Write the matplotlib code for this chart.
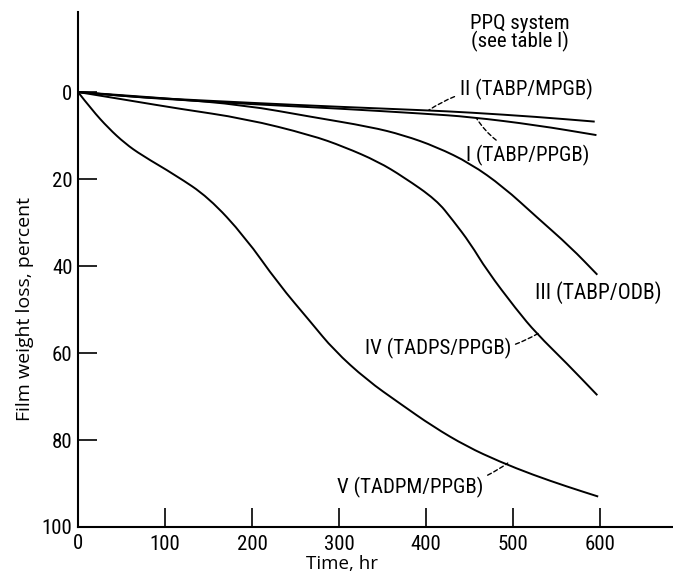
import numpy as np
import matplotlib
matplotlib.use("Agg")
import matplotlib.pyplot as plt
from matplotlib.path import Path
from matplotlib.patches import PathPatch

# police etroite pour les graduations et les etiquettes des courbes
plt.rcParams['font.family'] = ['Roboto Condensed', 'Liberation Sans', 'DejaVu Sans']
police_axes = ['Open Sans', 'DejaVu Sans']

# courbes : temps (hr) et perte de masse (%)
t_I = [0, 57, 100, 200, 300, 400, 450, 527, 596]
p_I = [0, 1.0, 1.6, 2.8, 3.8, 5.0, 5.7, 7.6, 9.9]

t_II = [0, 57, 100, 200, 300, 400, 450, 527, 594]
p_II = [0, 1.0, 1.5, 2.5, 3.4, 4.2, 4.7, 5.7, 6.8]

t_III = [0, 100, 192, 268, 336, 374, 412, 451, 489, 527, 566, 597]
p_III = [0, 1.4, 3.0, 5.7, 8.0, 9.9, 12.6, 16.4, 21.8, 28.7, 35.6, 42.0]

t_IV = [0, 61, 115, 192, 268, 306, 345, 374, 412, 431, 451, 470, 504, 527, 562, 597]
p_IV = [0, 2.0, 3.8, 6.1, 9.9, 12.6, 16.0, 19.5, 24.8, 29.5, 34.8, 41.0, 50.0, 55.5, 62.4, 69.7]

t_V = [0, 16, 35, 54, 73, 112, 150, 192, 230, 268, 294, 332, 370, 408, 447, 485, 523, 562, 598]
p_V = [0, 4.1, 8.3, 11.8, 14.5, 19.1, 24.2, 33.3, 44.0, 53.0, 59.3, 66.2, 71.6, 76.9, 81.5, 85.0, 88.0, 90.7, 93.0]

xticks = [100, 200, 300, 400, 500, 600]
xtick_lab = ['100', '200', '300', '400', '500', '600']
yticks = [0, 20, 40, 60, 80, 100]


def courbe(ax, t, p):
    # trace lisse : les points lus servent de points de controle
    pts = list(zip(t, p))
    verts = [pts[0]]
    codes = [Path.MOVETO]
    for k in range(1, len(pts) - 1):
        mid = ((pts[k][0] + pts[k+1][0]) / 2, (pts[k][1] + pts[k+1][1]) / 2)
        verts += [pts[k], mid]
        codes += [Path.CURVE3, Path.CURVE3]
    verts.append(pts[-1])
    codes.append(Path.LINETO)
    ax.add_patch(PathPatch(Path(verts, codes), fill=False, lw=1.4, edgecolor='black'))


fig = plt.figure(figsize=(6.73, 5.75), dpi=100)
ax = fig.add_axes([78/673, 48/575, 595/673, 515/575])

for t, p in [(t_I, p_I), (t_II, p_II), (t_III, p_III), (t_IV, p_IV), (t_V, p_V)]:
    courbe(ax, t, p)

ax.set_xlim(0, 684)
ax.set_ylim(100, -18.4)

ax.spines['top'].set_visible(False)
ax.spines['right'].set_visible(False)
ax.spines['left'].set_linewidth(1.5)
ax.spines['bottom'].set_linewidth(1.5)

ax.set_xticks(xticks)
ax.set_xticklabels(xtick_lab)
ax.set_yticks(yticks)
ax.tick_params(axis='both', direction='in', length=14, width=1.2, labelsize=15)
ax.tick_params(axis='x', pad=6)
ax.tick_params(axis='y', pad=4)
ax.text(0, -0.013, '0', transform=ax.get_xaxis_transform(), ha='center', va='top', fontsize=15)

fig.text(341.7/673, 1 - 564/575, 'Time, hr', fontsize=13.5, ha='center', va='center', family=police_axes)
fig.text(25/673, 1 - 309/575, 'Film weight loss, percent', fontsize=14, rotation=90,
         ha='center', va='center', family=police_axes)

fs = 15
ax.text(508, -15.8, 'PPQ system', ha='center', va='center', fontsize=fs)
ax.text(508, -11.6, '(see table I)', ha='center', va='center', fontsize=fs)

dash = dict(arrowstyle='-', linestyle=(0, (3, 2)), lw=1.0, color='black')
ax.annotate('II (TABP/MPGB)', xy=(403, 4.2), xytext=(439, -0.5), ha='left', va='center', fontsize=fs,
            arrowprops=dict(dash, connectionstyle='arc3,rad=0.2', shrinkA=2, shrinkB=0))
ax.annotate('I (TABP/PPGB)', xy=(458, 6.0), xytext=(446, 14.5), ha='left', va='center', fontsize=fs,
            arrowprops=dict(dash, connectionstyle='arc3,rad=-0.2', shrinkA=2, shrinkB=0))
ax.text(525, 46.2, 'III (TABP/ODB)', ha='left', va='center', fontsize=15.5)
ax.annotate('IV (TADPS/PPGB)', xy=(529, 55.5), xytext=(330, 58.9), ha='left', va='center', fontsize=fs,
            arrowprops=dict(dash, connectionstyle='arc3,rad=0.2', shrinkA=1, shrinkB=0))
ax.annotate('V (TADPM/PPGB)', xy=(494, 85.3), xytext=(298, 90.8), ha='left', va='center', fontsize=fs,
            arrowprops=dict(dash, connectionstyle='arc3,rad=0.2', shrinkA=1, shrinkB=0))

plt.savefig('out.png', dpi=100)
